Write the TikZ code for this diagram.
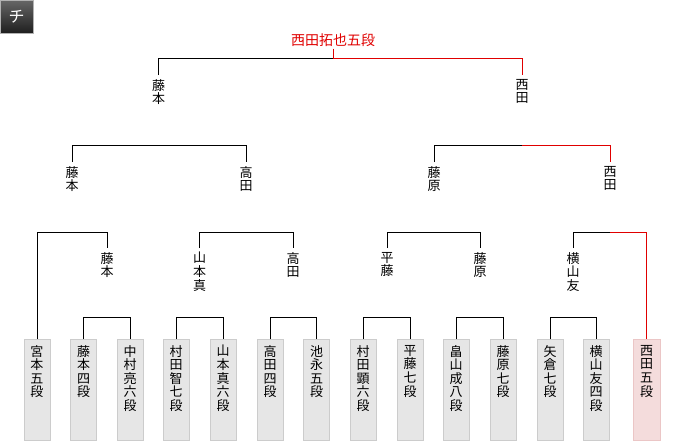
\documentclass[tikz,border=0pt]{standalone}
\usepackage{fontspec}
\setmainfont{Noto Sans CJK JP}
\definecolor{winred}{HTML}{E00000}
\definecolor{boxfill}{HTML}{E6E6E6}
\definecolor{boxline}{HTML}{CCCCCC}
\definecolor{redfill}{HTML}{F4DCDC}
\definecolor{redline}{HTML}{EBC6C6}
\newcommand\vtxt[1]{\parbox[t][89pt][t]{20pt}{\centering #1}}
\begin{document}
\begin{tikzpicture}[x=1pt,y=-1pt,
  every node/.style={font=\fontsize{13}{13.6}\selectfont},
  player/.style={draw=boxline, fill=boxfill, anchor=north, inner xsep=3pt, inner ysep=6pt, minimum width=26pt},
  winbox/.style={player, draw=redline, fill=redfill, minimum width=27pt},
  lbl/.style={anchor=north, inner xsep=0pt, inner ysep=4pt, align=center},
  conn/.style={line width=1pt, black},
  rconn/.style={line width=1pt, winred},
  badge/.style={draw=gray!60, top color=black!60, bottom color=black!88, minimum width=33pt, minimum height=33pt, inner sep=0pt, text=white, font=\fontsize{16}{16}\selectfont}
]
\useasboundingbox (0,0) rectangle (680,440);
\node[badge, anchor=north west] (badge) at (0,0) {チ};

% players
\node[player] (b1) at (37,339) {\vtxt{宮\\本\\五\\段}};
\node[player] (b2) at (83.5,339) {\vtxt{藤\\本\\四\\段}};
\node[player] (b3) at (130,339) {\vtxt{中\\村\\亮\\六\\段}};
\node[player] (b4) at (176,339) {\vtxt{村\\田\\智\\七\\段}};
\node[player] (b5) at (223,339) {\vtxt{山\\本\\真\\六\\段}};
\node[player] (b6) at (270,339) {\vtxt{高\\田\\四\\段}};
\node[player] (b7) at (316.5,339) {\vtxt{池\\永\\五\\段}};
\node[player] (b8) at (363,339) {\vtxt{村\\田\\顕\\六\\段}};
\node[player] (b9) at (410,339) {\vtxt{平\\藤\\七\\段}};
\node[player] (b10) at (456,339) {\vtxt{畠\\山\\成\\八\\段}};
\node[player] (b11) at (503,339) {\vtxt{藤\\原\\七\\段}};
\node[player] (b12) at (550,339) {\vtxt{矢\\倉\\七\\段}};
\node[player] (b13) at (596,339) {\vtxt{横\\山\\友\\四\\段}};
\node[winbox] (b14) at (646.5,339) {\vtxt{西\\田\\五\\段}};

% winners of round 1
\node[lbl] (lA) at (107,248) {藤\\本};
\node[lbl] (lB) at (199.5,248) {山\\本\\真};
\node[lbl] (lC) at (293,248) {高\\田};
\node[lbl] (lD) at (387,248) {平\\藤};
\node[lbl] (lE) at (480,248) {藤\\原};
\node[lbl] (lF) at (573,248) {横\\山\\友};
% winners of round 2
\node[lbl] (mA) at (72,162) {藤\\本};
\node[lbl] (mB) at (246,162) {高\\田};
\node[lbl] (mC) at (434,162) {藤\\原};
\node[lbl] (mD) at (610,162) {西\\田};
% winners of round 3
\node[lbl] (nA) at (158.5,75) {藤\\本};
\node[lbl] (nB) at (522,75) {西\\田};
% champion
\node[inner sep=2pt, text=winred, font=\fontsize{14}{14}\selectfont] (champ) at (333,40) {西田拓也五段};

% round 1 brackets
\draw[conn] (b2.north) -- ++(0,-22) -| (b3.north);
\draw[conn] (b4.north) -- ++(0,-22) -| (b5.north);
\draw[conn] (b6.north) -- ++(0,-22) -| (b7.north);
\draw[conn] (b8.north) -- ++(0,-22) -| (b9.north);
\draw[conn] (b10.north) -- ++(0,-22) -| (b11.north);
\draw[conn] (b12.north) -- ++(0,-22) -| (b13.north);

% round 2 brackets
\draw[conn] (b1.north) -- (b1 |- 0,232) -- (lA |- 0,232) -- (lA.north);
\draw[conn] (lB.north) -- (lB |- 0,232) -- (lC |- 0,232) -- (lC.north);
\draw[conn] (lD.north) -- (lD |- 0,232) -- (lE |- 0,232) -- (lE.north);
\draw[conn] (lF.north) -- (lF |- 0,232) -- (mD |- 0,232);
\draw[rconn] (mD |- 0,232) -- (b14 |- 0,232) -- (b14.north);

% round 3 brackets
\draw[conn] (mA.north) -- (mA |- 0,145) -- (mB |- 0,145) -- (mB.north);
\draw[conn] (mC.north) -- (mC |- 0,145) -- (nB |- 0,145);
\draw[rconn] (nB |- 0,145) -- (mD |- 0,145) -- (mD.north);

% final
\draw[conn] (nA.north) -- (nA |- 0,58) -- (champ |- 0,58);
\draw[rconn] (champ.south) -- (champ |- 0,58) -- (nB |- 0,58) -- (nB.north);
\end{tikzpicture}
\end{document}
